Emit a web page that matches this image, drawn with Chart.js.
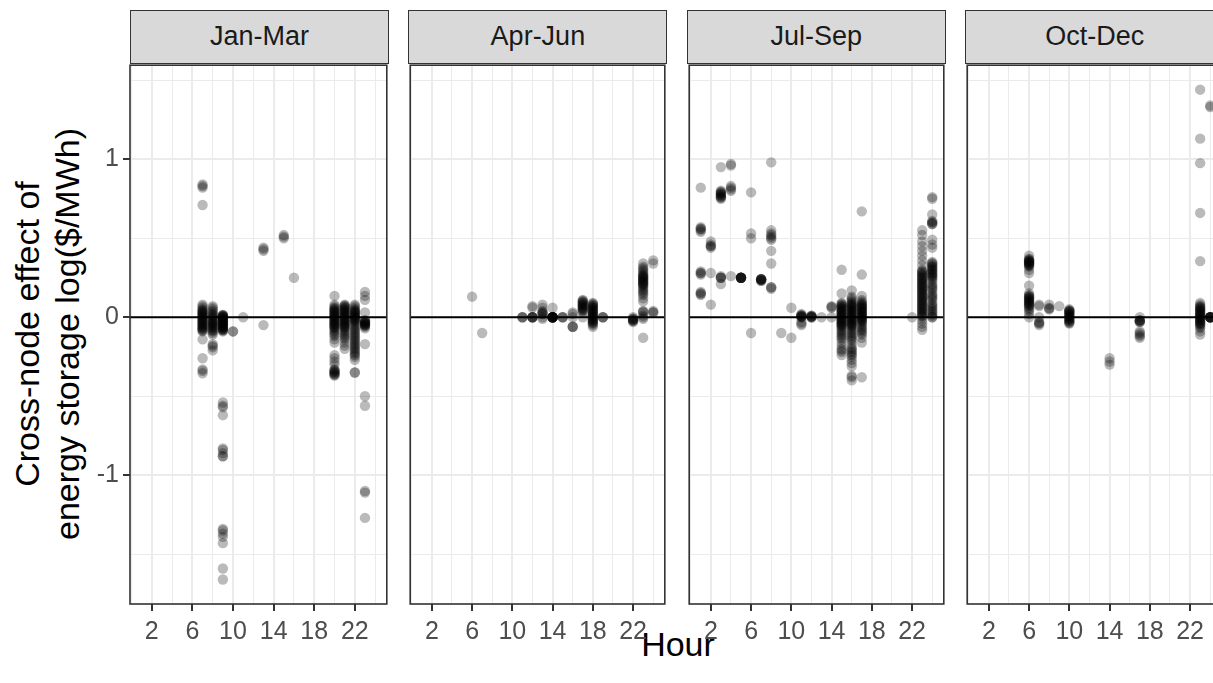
<!DOCTYPE html>
<html>
<head>
<meta charset="utf-8">
<script src="https://cdn.jsdelivr.net/npm/chart.js@4.4.1/dist/chart.umd.min.js"></script>
<style>
  body { margin: 0; background: #fff; overflow: hidden; }
  #wrap { position: relative; width: 1213px; height: 683px; overflow: hidden; background: #fff;
          font-family: "Liberation Sans", Arial, sans-serif; }
  .strip { position: absolute; top: 10px; height: 54px; box-sizing: border-box; background: #d9d9d9;
           border: 1.5px solid #333; color: #1a1a1a; font-size: 27px; text-align: center; line-height: 51px; }
  canvas { position: absolute; }
  #ytitle { position: absolute; left: 47px; top: 334px; width: 600px; margin-left: -300px; margin-top: -40px;
            transform: rotate(-90deg); text-align: center; font-size: 34px; line-height: 40px; color: #000; }
  #xtitle { position: absolute; left: 678px; top: 624px; width: 200px; margin-left: -100px;
            text-align: center; font-size: 34px; line-height: 40px; color: #000; }
</style>
</head>
<body>
<div id="wrap">
  <div id="ytitle">Cross-node effect of<br>energy storage log($/MWh)</div>
  <div id="xtitle">Hour</div>
</div>
<script>
// facet labels
const quarters = ["Jan-Mar", "Apr-Jun", "Jul-Sep", "Oct-Dec"];

// axis breaks
const hourTicks = [2, 6, 10, 14, 18, 22];
const hourMinor = [0, 4, 8, 12, 16, 20, 24];
const valueTicks = [-1, 0, 1];
const valueMinor = [-1.5, -0.5, 0.5, 1.5];

// Jan-Mar
const janMarHours = [7, 8, 9, 10, 11, 13, 15, 16, 20, 21, 22, 23];
const janMarValues = [
  [0.84, 0.83, 0.82, 0.71, 0.08, 0.07, 0.06, 0.05, 0.045, 0.04, 0.035, 0.03, 0.025, 0.02, 0.015, 0.01, 0.005, 0.0, -0.005, -0.01, -0.015, -0.02, -0.025, -0.03, -0.035, -0.04, -0.045, -0.05, -0.055, -0.06, -0.065, -0.07, -0.075, -0.08, -0.085, -0.09, -0.14, -0.26, -0.33, -0.34, -0.355],
  [0.07, 0.06, 0.05, 0.04, 0.03, 0.02, 0.015, 0.01, 0.0, -0.005, -0.01, -0.02, -0.025, -0.03, -0.035, -0.04, -0.045, -0.05, -0.055, -0.06, -0.065, -0.07, -0.08, -0.085, -0.09, -0.1, -0.11, -0.17, -0.18, -0.19, -0.21],
  [0.015, 0.015, 0.01, 0.01, 0.005, 0.005, 0.0, 0.0, -0.005, -0.01, -0.01, -0.015, -0.02, -0.02, -0.025, -0.03, -0.03, -0.035, -0.04, -0.04, -0.045, -0.05, -0.05, -0.055, -0.06, -0.06, -0.065, -0.07, -0.07, -0.075, -0.08, -0.08, -0.085, -0.09, -0.54, -0.56, -0.57, -0.62, -0.83, -0.84, -0.86, -0.88, -0.88, -1.34, -1.35, -1.37, -1.39, -1.43, -1.59, -1.66],
  [-0.09, -0.09],
  [0.0],
  [0.44, 0.43, 0.42, -0.05],
  [0.52, 0.51, 0.5],
  [0.25],
  [0.135, 0.08, 0.07, 0.06, 0.055, 0.05, 0.045, 0.04, 0.035, 0.03, 0.025, 0.02, 0.015, 0.01, 0.005, 0.0, -0.005, -0.01, -0.015, -0.02, -0.025, -0.03, -0.035, -0.04, -0.045, -0.05, -0.055, -0.06, -0.065, -0.07, -0.08, -0.09, -0.1, -0.11, -0.12, -0.14, -0.16, -0.24, -0.26, -0.28, -0.3, -0.33, -0.335, -0.34, -0.345, -0.35, -0.355, -0.36, -0.365, -0.37],
  [0.08, 0.075, 0.07, 0.065, 0.06, 0.055, 0.05, 0.045, 0.04, 0.035, 0.03, 0.025, 0.02, 0.015, 0.01, 0.005, 0.0, -0.005, -0.01, -0.015, -0.02, -0.025, -0.03, -0.035, -0.04, -0.045, -0.05, -0.055, -0.06, -0.065, -0.07, -0.08, -0.09, -0.1, -0.11, -0.12, -0.13, -0.14, -0.16, -0.18, -0.2],
  [0.08, 0.07, 0.06, 0.05, 0.045, 0.04, 0.035, 0.03, 0.025, 0.02, 0.015, 0.01, 0.005, 0.0, -0.005, -0.01, -0.015, -0.02, -0.025, -0.03, -0.04, -0.05, -0.06, -0.07, -0.08, -0.09, -0.1, -0.11, -0.12, -0.13, -0.14, -0.15, -0.16, -0.17, -0.18, -0.19, -0.2, -0.21, -0.22, -0.23, -0.24, -0.25, -0.27, -0.35, -0.35],
  [0.16, 0.135, 0.11, 0.03, -0.02, -0.02, -0.025, -0.03, -0.03, -0.035, -0.04, -0.04, -0.045, -0.05, -0.05, -0.055, -0.06, -0.07, -0.17, -0.5, -0.56, -1.1, -1.11, -1.27]
];

// Apr-Jun
const aprJunHours = [6, 7, 11, 12, 13, 14, 15, 16, 17, 18, 19, 22, 23, 24];
const aprJunValues = [
  [0.13],
  [-0.1],
  [0.0, 0.0, 0.0],
  [0.07, 0.06, 0.0, 0.0, 0.0, 0.0, 0.0],
  [0.08, 0.06, 0.04, 0.03, 0.03, 0.02, 0.02, 0.0, -0.01],
  [0.06, 0.0, 0.0, 0.0, 0.0, 0.0, 0.0, 0.0, 0.0, 0.0, 0.0, 0.0, 0.0],
  [0.0, 0.0, 0.0],
  [0.03, 0.02, 0.0, -0.06, -0.06, -0.06],
  [0.11, 0.105, 0.1, 0.095, 0.09, 0.085, 0.08, 0.075, 0.07, 0.065, 0.06, 0.055, 0.05, 0.045, 0.04, 0.03, 0.0],
  [0.09, 0.085, 0.08, 0.075, 0.07, 0.065, 0.06, 0.055, 0.05, 0.045, 0.04, 0.035, 0.03, 0.025, 0.02, 0.015, 0.01, 0.005, 0.0, -0.005, -0.01, -0.015, -0.02, -0.025, -0.03, -0.035, -0.04, -0.05, -0.06],
  [0.0, 0.0, 0.0],
  [0.0, -0.01, -0.01, -0.015, -0.02, -0.02, -0.025, -0.03],
  [0.34, 0.32, 0.31, 0.3, 0.29, 0.28, 0.27, 0.265, 0.26, 0.255, 0.25, 0.245, 0.24, 0.235, 0.23, 0.225, 0.22, 0.215, 0.21, 0.205, 0.2, 0.19, 0.18, 0.17, 0.16, 0.15, 0.14, 0.12, 0.1, 0.04, 0.035, 0.03, 0.01, 0.0, -0.01, -0.13],
  [0.36, 0.34, 0.04, 0.03, 0.03]
];

// Jul-Sep
const julSepHours = [1, 2, 3, 4, 5, 6, 7, 8, 9, 10, 11, 12, 13, 14, 15, 16, 17, 22, 23, 24];
const julSepValues = [
  [0.82, 0.57, 0.56, 0.56, 0.55, 0.54, 0.29, 0.28, 0.28, 0.27, 0.16, 0.15, 0.15, 0.14],
  [0.48, 0.46, 0.45, 0.45, 0.44, 0.28, 0.08],
  [0.95, 0.8, 0.795, 0.79, 0.785, 0.78, 0.775, 0.77, 0.765, 0.76, 0.755, 0.75, 0.26, 0.25, 0.25, 0.25, 0.21],
  [0.97, 0.96, 0.83, 0.82, 0.81, 0.8, 0.26],
  [0.25, 0.25, 0.25, 0.25, 0.25, 0.25, 0.25, 0.25],
  [0.79, 0.53, 0.5, -0.1],
  [0.24, 0.24, 0.24, 0.24, 0.24, 0.235, 0.23, 0.23],
  [0.98, 0.55, 0.53, 0.52, 0.51, 0.5, 0.49, 0.42, 0.34, 0.19, 0.19, 0.18],
  [-0.1],
  [0.06, -0.13],
  [0.02, 0.015, 0.01, 0.01, 0.005, 0.005, 0.0, 0.0, -0.03, -0.04, -0.05],
  [0.01, 0.01, 0.005, 0.005, 0.0, 0.0, 0.0],
  [0.0],
  [0.07, 0.065, 0.06, 0.0],
  [0.3, 0.15, 0.09, 0.085, 0.08, 0.075, 0.07, 0.065, 0.06, 0.055, 0.05, 0.045, 0.04, 0.035, 0.03, 0.025, 0.02, 0.015, 0.01, 0.005, 0.0, -0.005, -0.01, -0.015, -0.02, -0.025, -0.03, -0.035, -0.04, -0.045, -0.05, -0.055, -0.06, -0.07, -0.08, -0.09, -0.1, -0.11, -0.12, -0.13, -0.14, -0.16, -0.18, -0.2, -0.21, -0.22, -0.24],
  [0.17, 0.13, 0.12, 0.11, 0.1, 0.09, 0.085, 0.08, 0.075, 0.07, 0.065, 0.06, 0.055, 0.05, 0.045, 0.04, 0.035, 0.03, 0.025, 0.02, 0.015, 0.01, 0.005, 0.0, -0.005, -0.01, -0.015, -0.02, -0.025, -0.03, -0.035, -0.04, -0.045, -0.05, -0.055, -0.06, -0.07, -0.08, -0.09, -0.1, -0.11, -0.12, -0.13, -0.14, -0.15, -0.17, -0.19, -0.2, -0.21, -0.22, -0.23, -0.24, -0.25, -0.27, -0.29, -0.31, -0.37, -0.38, -0.4],
  [0.67, 0.27, 0.135, 0.11, 0.1, 0.09, 0.085, 0.08, 0.075, 0.07, 0.065, 0.06, 0.055, 0.05, 0.045, 0.04, 0.035, 0.03, 0.025, 0.02, 0.015, 0.01, 0.005, 0.0, -0.005, -0.01, -0.015, -0.02, -0.025, -0.03, -0.04, -0.05, -0.06, -0.07, -0.08, -0.09, -0.1, -0.11, -0.13, -0.16, -0.38],
  [0.0],
  [0.55, 0.52, 0.48, 0.45, 0.42, 0.39, 0.36, 0.33, 0.3, 0.29, 0.29, 0.28, 0.27, 0.27, 0.26, 0.25, 0.25, 0.24, 0.23, 0.23, 0.22, 0.21, 0.21, 0.2, 0.19, 0.19, 0.18, 0.17, 0.17, 0.16, 0.15, 0.15, 0.14, 0.13, 0.13, 0.12, 0.11, 0.11, 0.1, 0.09, 0.09, 0.08, 0.07, 0.07, 0.06, 0.05, 0.05, 0.04, 0.03, 0.03, 0.02, 0.01, 0.01, 0.0, -0.02, -0.04, -0.06, -0.08],
  [0.76, 0.75, 0.65, 0.61, 0.6, 0.6, 0.59, 0.59, 0.49, 0.46, 0.44, 0.35, 0.34, 0.34, 0.33, 0.32, 0.32, 0.31, 0.3, 0.3, 0.29, 0.28, 0.28, 0.27, 0.26, 0.26, 0.25, 0.24, 0.23, 0.21, 0.2, 0.19, 0.18, 0.17, 0.15, 0.14, 0.13, 0.12, 0.11, 0.09, 0.08, 0.07, 0.06, 0.05, 0.04, 0.03, 0.02, 0.01, 0.0, 0.0]
];

// Oct-Dec
const octDecHours = [6, 7, 8, 9, 10, 14, 17, 23, 24];
const octDecValues = [
  [0.39, 0.37, 0.365, 0.36, 0.36, 0.355, 0.35, 0.35, 0.345, 0.34, 0.34, 0.335, 0.33, 0.325, 0.32, 0.3, 0.28, 0.2, 0.15, 0.14, 0.135, 0.13, 0.125, 0.12, 0.115, 0.11, 0.105, 0.1, 0.095, 0.09, 0.085, 0.08, 0.075, 0.07, 0.06, 0.05, 0.04, 0.02, 0.0],
  [0.08, 0.07, 0.0, -0.03, -0.035, -0.04, -0.05],
  [0.08, 0.06, 0.055, 0.05],
  [0.07],
  [0.05, 0.045, 0.04, 0.04, 0.035, 0.03, 0.025, 0.02, 0.015, 0.01, 0.005, 0.0, -0.005, -0.01, -0.015, -0.02, -0.025, -0.03, -0.035, -0.04],
  [-0.26, -0.28, -0.3],
  [0.0, -0.02, -0.02, -0.02, -0.025, -0.03, -0.03, -0.09, -0.1, -0.11, -0.12, -0.13],
  [1.44, 1.13, 0.975, 0.66, 0.355, 0.09, 0.08, 0.07, 0.065, 0.06, 0.055, 0.05, 0.045, 0.04, 0.035, 0.03, 0.025, 0.02, 0.015, 0.01, 0.005, 0.0, -0.005, -0.01, -0.015, -0.02, -0.025, -0.03, -0.035, -0.04, -0.045, -0.05, -0.06, -0.07, -0.09, -0.11],
  [1.34, 1.33, 0.0, 0.0, 0.0, 0.0, 0.0, 0.0, 0.0, 0.0]
];

const panels = [
  [janMarHours, janMarValues],
  [aprJunHours, aprJunValues],
  [julSepHours, julSepValues],
  [octDecHours, octDecValues]
];

const wrap = document.getElementById("wrap");
const panelW = 259, panelH = 541, panelTop = 63, step = 278.4;
const yAxisW = 130, xAxisH = 79, pad = 3;
const tickFont = { family: "Liberation Sans", size: 25 };

// zero reference line under the points, frame on top
const panelDeco = {
  id: "panelDeco",
  beforeDatasetsDraw(chart) {
    const { ctx, chartArea: a, scales } = chart;
    const y0 = scales.y.getPixelForValue(0);
    ctx.save();
    ctx.strokeStyle = "#000";
    ctx.lineWidth = 2;
    ctx.beginPath();
    ctx.moveTo(a.left, y0);
    ctx.lineTo(a.right, y0);
    ctx.stroke();
    ctx.restore();
  },
  afterDraw(chart) {
    const { ctx, chartArea: a } = chart;
    ctx.save();
    ctx.strokeStyle = "#333";
    ctx.lineWidth = 1.6;
    ctx.strokeRect(a.left, a.top, a.right - a.left, a.bottom - a.top);
    ctx.restore();
  }
};

panels.forEach(([hours, values], i) => {
  const left = 130 + i * step;
  const first = i === 0;

  const strip = document.createElement("div");
  strip.className = "strip";
  strip.style.left = left + "px";
  strip.style.width = panelW + "px";
  strip.textContent = quarters[i];
  wrap.appendChild(strip);

  const canvas = document.createElement("canvas");
  const cw = (first ? yAxisW : pad) + panelW + pad;
  const ch = pad + panelH + xAxisH;
  canvas.width = cw;
  canvas.height = ch;
  canvas.style.left = (left - (first ? yAxisW : pad)) + "px";
  canvas.style.top = (panelTop - pad) + "px";
  wrap.appendChild(canvas);

  const points = [];
  hours.forEach((h, k) => values[k].forEach(v => points.push({ x: h, y: v })));

  new Chart(canvas, {
    type: "scatter",
    data: {
      datasets: [{
        data: points,
        pointRadius: 5.2,
        pointBorderWidth: 0,
        pointBackgroundColor: "rgba(0,0,0,0.27)",
        pointBorderColor: "rgba(0,0,0,0)"
      }]
    },
    options: {
      responsive: false,
      animation: false,
      layout: { padding: { top: pad, right: pad, left: first ? 0 : pad, bottom: 0 } },
      plugins: { legend: { display: false }, tooltip: { enabled: false } },
      scales: {
        x: {
          type: "linear",
          min: -0.15,
          max: 25.15,
          afterBuildTicks: s => { s.ticks = hourTicks.concat(hourMinor).sort((a, b) => a - b).map(v => ({ value: v })); },
          afterFit: s => { s.height = xAxisH; s.paddingLeft = 0; s.paddingRight = 0; },
          border: { display: false },
          grid: {
            color: "#ebebeb",
            lineWidth: c => hourTicks.includes(c.tick.value) ? 2 : 1,
            tickLength: 7,
            tickWidth: 2,
            tickColor: c => hourTicks.includes(c.tick.value) ? "#333" : "rgba(0,0,0,0)"
          },
          ticks: {
            autoSkip: false,
            maxRotation: 0,
            padding: 6,
            color: "#4d4d4d",
            font: tickFont,
            callback: v => hourTicks.includes(v) ? String(v) : ""
          }
        },
        y: {
          min: -1.815,
          max: 1.595,
          afterBuildTicks: s => { s.ticks = valueTicks.concat(valueMinor).sort((a, b) => a - b).map(v => ({ value: v })); },
          afterFit: s => { s.width = first ? yAxisW : 0; s.paddingTop = 0; s.paddingBottom = 0; },
          border: { display: false },
          grid: {
            color: "#ebebeb",
            lineWidth: c => valueTicks.includes(c.tick.value) ? 2 : 1,
            drawTicks: first,
            tickLength: 7,
            tickWidth: 2,
            tickColor: c => valueTicks.includes(c.tick.value) ? "#333" : "rgba(0,0,0,0)"
          },
          ticks: {
            display: first,
            autoSkip: false,
            padding: 4,
            color: "#4d4d4d",
            font: tickFont,
            callback: v => valueTicks.includes(v) ? String(v) : ""
          }
        }
      }
    },
    plugins: [panelDeco]
  });
});
</script>
</body>
</html>
